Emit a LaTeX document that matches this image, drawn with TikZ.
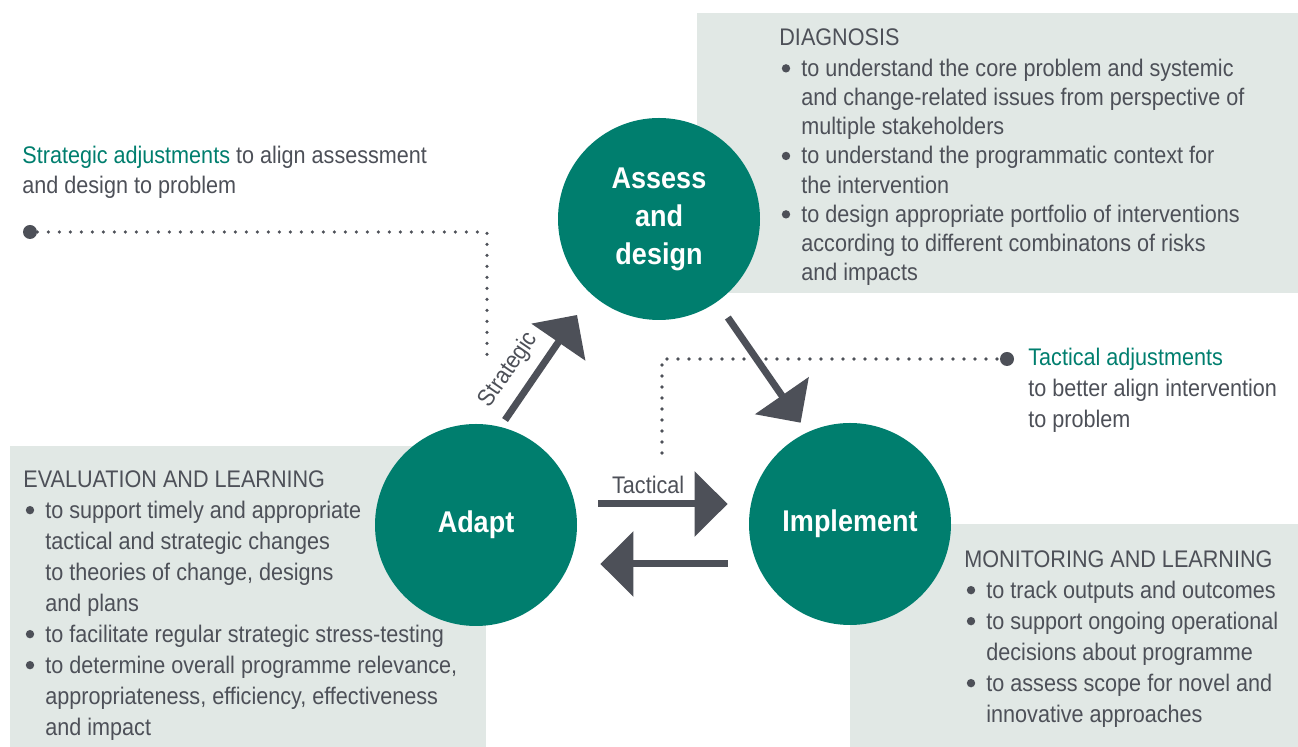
\documentclass[tikz,border=0pt]{standalone}
\usepackage{fontspec}
\setmainfont{Liberation Sans}[FakeStretch=0.9]
\usetikzlibrary{arrows.meta}

\definecolor{stageteal}{HTML}{007E6E}
\definecolor{inkgrey}{HTML}{4D5058}
\definecolor{panelgrey}{HTML}{E1E8E5}

\newcommand{\bul}{\makebox[11pt][l]{\hspace{1.2pt}\tikz[baseline=0pt]\fill[inkgrey] (0pt,4pt) circle[radius=2.1pt];}}
\newcommand{\ind}{\hspace*{11pt}}
\newcommand{\hl}[1]{\textcolor{stageteal}{#1}}

\begin{document}
\begin{tikzpicture}[%
		x=0.5pt, y=-0.5pt,
		panel/.style={
			fill=panelgrey
		},
		stage/.style={
			circle,
			minimum size=101pt,
			inner sep=0pt,
			fill=stageteal,
			text=white,
			align=center,
			font=\fontsize{15pt}{19pt}\selectfont\bfseries
		},
		notes/.style={
			anchor=north west,
			inner sep=0pt,
			align=left,
			text=inkgrey,
			font=\fontsize{12pt}{15.5pt}\selectfont
		},
		armlabel/.style={
			text=inkgrey,
			font=\fontsize{12pt}{14pt}\selectfont
		},
		bigarrow/.style={
			draw=inkgrey,
			line width=3.5pt,
			-{Triangle[length=16.5pt,width=32pt]}
		},
		bigdot/.style={
			circle,
			fill=inkgrey,
			minimum size=7pt,
			inner sep=0pt
		},
		dotline/.style={
			draw=inkgrey,
			line width=1.8pt,
			line cap=round,
			dash pattern=on 0pt off 5.5pt
		}]

		\useasboundingbox (0,0) rectangle (1298,747);

		% PANELS

		\fill[panel] (697,13) rectangle (1298,293);
		\fill[panel] (10,446) rectangle (486,747);
		\fill[panel] (850,524) rectangle (1298,747);

		% STAGES

		\node (assess) [stage] at (659,219) {Assess\\and\\design};
		\node (adapt) [stage] at (476,525) {Adapt};
		\node (implement) [stage] at (850,524) {Implement};

		% CYCLE ARROWS

		\draw[bigarrow, shorten <=4pt, shorten >=12.5pt] (adapt.76) -- node[armlabel, sloped, above=2pt, pos=0.32] {Strategic} (assess.228);
		\draw[bigarrow, shorten <=9.4pt, shorten >=5.7pt] (assess.305) -- (implement.115);
		\draw[bigarrow] ([shift={(21,-21)}]adapt.east) -- node[armlabel, above=0pt, pos=0.385] {Tactical} ([shift={(-21,-20)}]implement.west);
		\draw[bigarrow] ([shift={(-21,40)}]implement.west) -- ([shift={(23,39)}]adapt.east);

		% ADJUSTMENT LEADERS

		\node (stratdot) [bigdot] at (30,232) {};
		\coordinate (stratbend) at (487,232);
		\coordinate (stratend) at (487,355);
		\draw[dotline] (stratdot) -- (stratbend) -- (stratend);

		\node (tacdot) [bigdot] at (1007,359) {};
		\coordinate (tacbend) at (662,359);
		\coordinate (tacend) at (662,453);
		\draw[dotline] (tacend) -- (tacbend) -- (tacdot);

		% TEXTS

		\node (stratnote) [notes, font=\fontsize{12pt}{15pt}\selectfont] at (22,146) {\hl{Strategic adjustments} to align assessment\\and design to problem};
		\node (tacnote) [notes] at (1028,348) {\hl{Tactical adjustments}\\to better align intervention\\to problem};

		\node (diagnosis) [notes, font=\fontsize{12pt}{14.6pt}\selectfont] at (779,28) {DIAGNOSIS\\[1pt]
			\bul to understand the core problem and systemic\\
			\ind and change-related issues from perspective of\\
			\ind multiple stakeholders\\
			\bul to understand the programmatic context for\\
			\ind the intervention\\
			\bul to design appropriate portfolio of interventions\\
			\ind according to different combinatons of risks\\
			\ind and impacts};

		\node (evaluation) [notes] at (23,470) {EVALUATION AND LEARNING\\
			\bul to support timely and appropriate\\
			\ind tactical and strategic changes\\
			\ind to theories of change, designs\\
			\ind and plans\\
			\bul to facilitate regular strategic stress-testing\\
			\bul to determine overall programme relevance,\\
			\ind appropriateness, efficiency, effectiveness\\
			\ind and impact};

		\node (monitoring) [notes] at (964,550) {MONITORING AND LEARNING\\
			\bul to track outputs and outcomes\\
			\bul to support ongoing operational\\
			\ind decisions about programme\\
			\bul to assess scope for novel and\\
			\ind innovative approaches};
\end{tikzpicture}
\end{document}
